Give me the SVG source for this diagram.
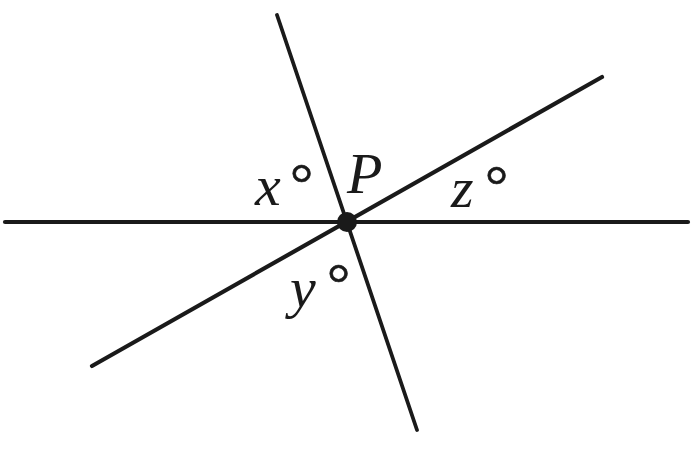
<svg xmlns="http://www.w3.org/2000/svg" width="700" height="470" viewBox="0 0 700 470">
<style>
.ln{stroke:#1a1a1a;stroke-width:4.2;stroke-linecap:round;fill:none}
.lbl{font-family:"Liberation Serif","DejaVu Serif",serif;font-style:italic;font-size:58px;fill:#1a1a1a}
.deg{font-family:"Liberation Serif","DejaVu Serif",serif;font-size:58px;fill:#1a1a1a;stroke:#1a1a1a;stroke-width:0.6}
</style>
<rect width="700" height="470" fill="#ffffff"/>
<g id="connectors">
<line class="ln" x1="5" y1="222" x2="688" y2="222"/>
<line class="ln" x1="277" y1="15" x2="417" y2="430" style="stroke-width:3.8"/>
<line class="ln" x1="92" y1="366" x2="602" y2="77"/>
</g>
<g id="P">
<circle cx="347" cy="222" r="10" fill="#1a1a1a"/>
<text class="lbl" x="347" y="193">P</text>
</g>
<g id="label-x">
<text class="lbl" x="255" y="205">x</text>
<text class="deg" x="290" y="203">°</text>
</g>
<g id="label-z">
<text class="lbl" x="451" y="207">z</text>
<text class="deg" x="485" y="205">°</text>
</g>
<g id="label-y">
<text class="lbl" x="290" y="307">y</text>
<text class="deg" x="327" y="303">°</text>
</g>
</svg>
